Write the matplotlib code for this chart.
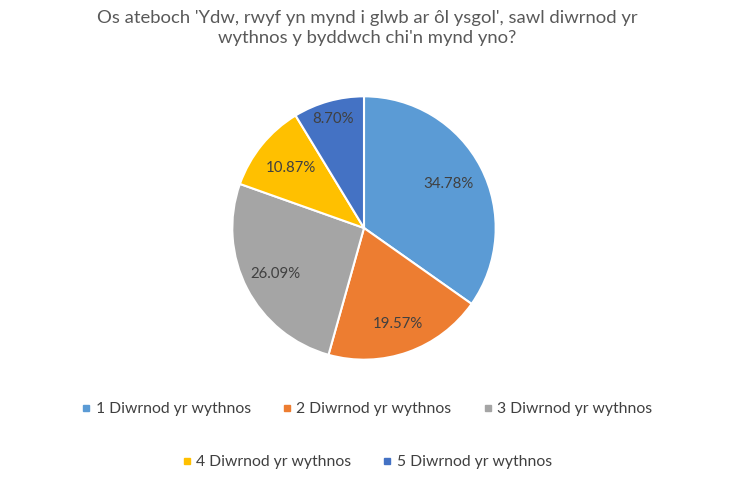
import numpy as np
import matplotlib.pyplot as plt
from matplotlib.lines import Line2D

plt.rcParams['font.family'] = ['Lato', 'DejaVu Sans']

categories = ["1 Diwrnod yr wythnos", "2 Diwrnod yr wythnos", "3 Diwrnod yr wythnos",
              "4 Diwrnod yr wythnos", "5 Diwrnod yr wythnos"]
percentages = [34.78, 19.57, 26.09, 10.87, 8.70]
colors = ["#5B9BD5", "#ED7D31", "#A5A5A5", "#FFC000", "#4472C4"]
label_dist = [0.72, 0.77, 0.76, 0.72, 0.86]

title = ("Os ateboch 'Ydw, rwyf yn mynd i glwb ar ôl ysgol', sawl diwrnod yr\n"
         "wythnos y byddwch chi'n mynd yno?")

fig = plt.figure(figsize=(7.34, 4.88), dpi=100)
ax = fig.add_axes([231 / 734, 127 / 488, 266 / 734, 266 / 488])

wedges, _ = ax.pie(percentages, colors=colors, startangle=90, counterclock=False,
                   radius=1, wedgeprops=dict(edgecolor="white", linewidth=1.5))
ax.set_xlim(-1.01, 1.01)
ax.set_ylim(-1.01, 1.01)
ax.set_aspect("equal")
ax.axis("off")

for w, p, d in zip(wedges, percentages, label_dist):
    ang = np.deg2rad((w.theta1 + w.theta2) / 2)
    ax.text(d * np.cos(ang), d * np.sin(ang), f"{p:.2f}%", ha="center", va="center",
            fontsize=10.8, color="#404040")

fig.text(0.5, 0.98, title, ha="center", va="top", fontsize=13.3, color="#595959",
         linespacing=1.3)

handles = [Line2D([], [], marker="s", linestyle="", markersize=4.5, color=c) for c in colors]
fig.legend(handles[:3], categories[:3], loc="center", bbox_to_anchor=(0.5, 1 - 409 / 488),
           ncol=3, frameon=False, fontsize=11.3, handlelength=0.6, handletextpad=0.3,
           columnspacing=2.0, labelcolor="#404040")
fig.legend(handles[3:], categories[3:], loc="center", bbox_to_anchor=(0.5, 1 - 462 / 488),
           ncol=2, frameon=False, fontsize=11.3, handlelength=0.6, handletextpad=0.3,
           columnspacing=2.0, labelcolor="#404040")

fig.savefig("out.png", dpi=100, facecolor="white")
